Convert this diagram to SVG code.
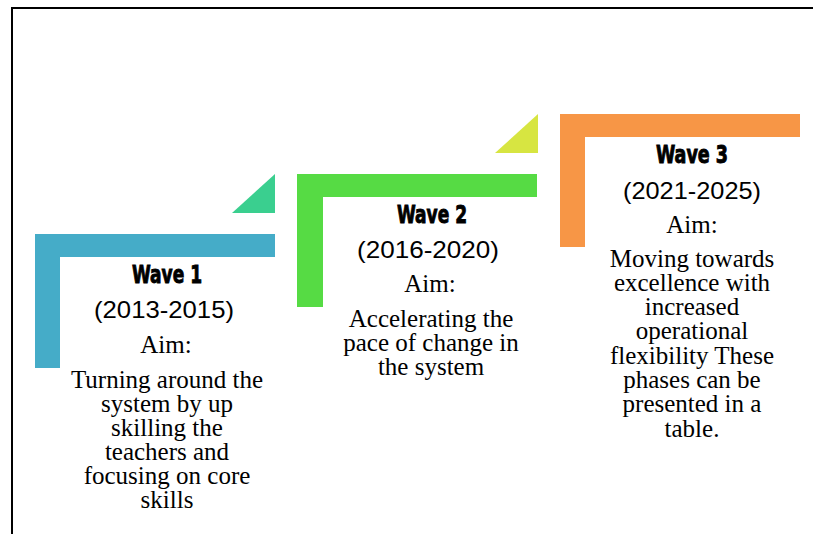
<svg xmlns="http://www.w3.org/2000/svg" width="813" height="534" viewBox="0 0 813 534">
<style>
.h{font-family:"DejaVu Sans Condensed","DejaVu Sans",sans-serif;font-weight:bold;font-size:25px;fill:#000;stroke:#000;stroke-width:0.9px;text-anchor:middle}
.d{font-family:"Liberation Sans",Arial,sans-serif;font-size:24px;fill:#000;text-anchor:middle}
.t{font-family:"Liberation Serif","Times New Roman",serif;font-size:25px;fill:#000;text-anchor:middle}
</style>
<rect width="813" height="534" fill="#fff"/>
<path d="M12 534 V8 H813" fill="none" stroke="#000" stroke-width="2"/>
<g id="connectors"></g>
<g id="wave1">
<path d="M35 234 H275 V257 H60 V368 H35 Z" fill="#45ACC8"/>
<polygon points="232,213 275,174 275,213" fill="#3ACF8F"/>
<text class="h" x="167" y="283" textLength="70" lengthAdjust="spacingAndGlyphs">Wave 1</text>
<text class="d" x="164" y="318" textLength="140" lengthAdjust="spacingAndGlyphs">(2013-2015)</text>
<text class="t" x="166" y="353">Aim:</text>
<text class="t" x="167" y="388">Turning around the</text>
<text class="t" x="167" y="412">system by up</text>
<text class="t" x="167" y="436">skilling the</text>
<text class="t" x="167" y="460">teachers and</text>
<text class="t" x="167" y="484">focusing on core</text>
<text class="t" x="167" y="508">skills</text>
</g>
<g id="wave2">
<path d="M297 174 H537 V197 H323 V307 H297 Z" fill="#56DB44"/>
<polygon points="495,153 538,114 538,153" fill="#D7E541"/>
<text class="h" x="432" y="223" textLength="70" lengthAdjust="spacingAndGlyphs">Wave 2</text>
<text class="d" x="428" y="258" textLength="142" lengthAdjust="spacingAndGlyphs">(2016-2020)</text>
<text class="t" x="430" y="292">Aim:</text>
<text class="t" x="431" y="327">Accelerating the</text>
<text class="t" x="431" y="351">pace of change in</text>
<text class="t" x="431" y="375">the system</text>
</g>
<g id="wave3">
<path d="M560 114 H800 V137 H585 V247 H560 Z" fill="#F79646"/>
<text class="h" x="692" y="163" textLength="72" lengthAdjust="spacingAndGlyphs">Wave 3</text>
<text class="d" x="692" y="199" textLength="138" lengthAdjust="spacingAndGlyphs">(2021-2025)</text>
<text class="t" x="692" y="233">Aim:</text>
<text class="t" x="692" y="267">Moving towards</text>
<text class="t" x="692" y="291">excellence with</text>
<text class="t" x="692" y="315">increased</text>
<text class="t" x="692" y="339">operational</text>
<text class="t" x="692" y="364">flexibility These</text>
<text class="t" x="692" y="388">phases can be</text>
<text class="t" x="692" y="412">presented in a</text>
<text class="t" x="692" y="437">table.</text>
</g>
</svg>
